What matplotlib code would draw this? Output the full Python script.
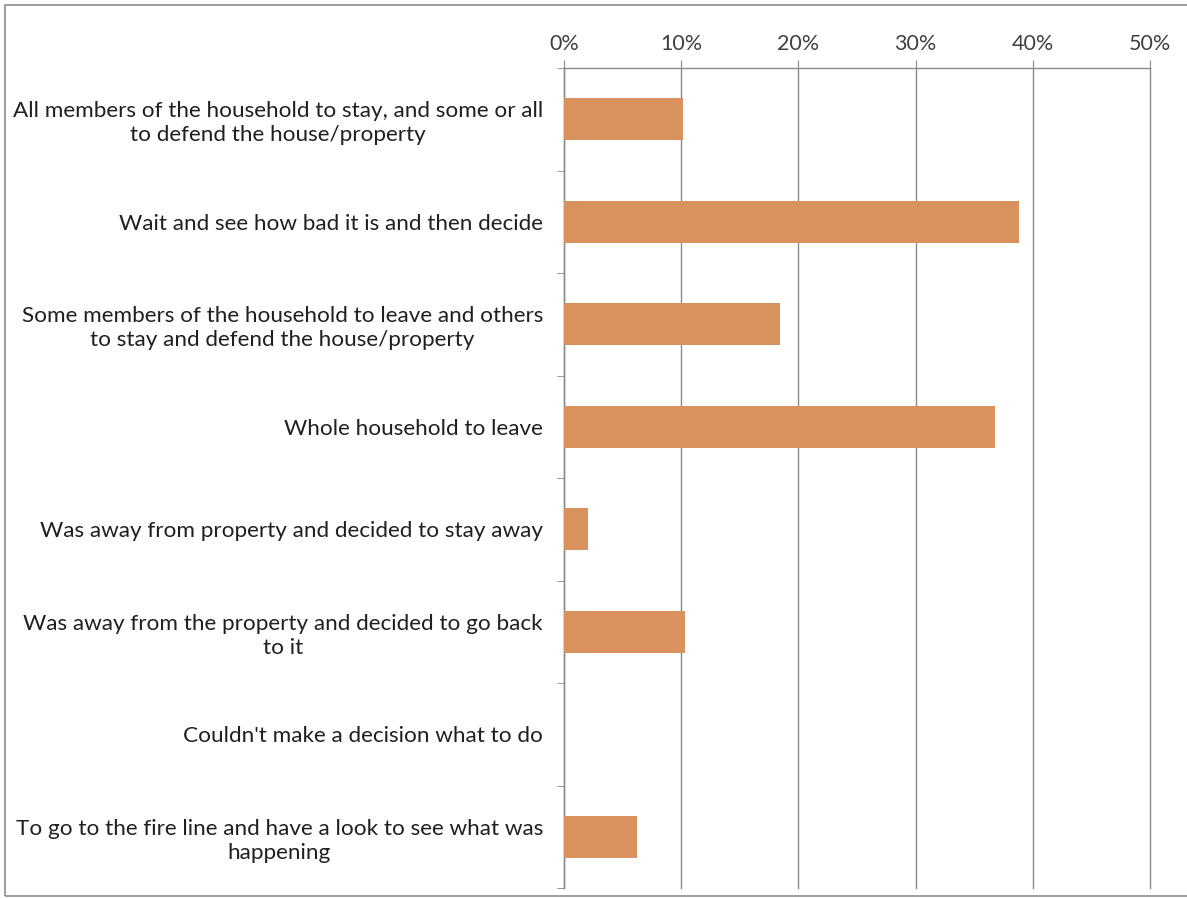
import matplotlib
matplotlib.use("Agg")
import matplotlib.pyplot as plt
from matplotlib.ticker import PercentFormatter, FixedLocator
from matplotlib.patches import Rectangle

categories = [
    "All members of the household to stay, and some or all\nto defend the house/property",
    "Wait and see how bad it is and then decide",
    "Some members of the household to leave and others\nto stay and defend the house/property",
    "Whole household to leave",
    "Was away from property and decided to stay away",
    "Was away from the property and decided to go back\nto it",
    "Couldn't make a decision what to do",
    "To go to the fire line and have a look to see what was\nhappening",
]
values = [0.102, 0.388, 0.184, 0.368, 0.021, 0.103, 0.0, 0.062]
xticks = [0, 0.1, 0.2, 0.3, 0.4, 0.5]

plt.rcParams['font.family'] = ['Lato', 'DejaVu Sans']

fig = plt.figure(figsize=(11.87, 8.98), dpi=100)
ax = fig.add_axes([0.475, 0.011, 0.494, 0.913])

pos = list(range(len(categories)))
ax.barh(pos, values, height=0.41, color='#D9925E', zorder=3)

ax.set_xlim(0, 0.5)
ax.set_ylim(len(categories) - 0.5, -0.5)
ax.set_xticks(xticks)
ax.xaxis.set_major_formatter(PercentFormatter(1.0, decimals=0))
ax.xaxis.tick_top()
ax.tick_params(axis='x', direction='out', length=6, color='#888888',
               labelsize=15.5, labelcolor='#404040', pad=4)
ax.grid(axis='x', color='#8a8a8a', linewidth=1.0, zorder=0)
for gl in ax.get_xgridlines():
    gl.set_clip_on(False)

ax.set_yticks(pos)
ax.set_yticklabels(categories, fontsize=16.2, color='#202020')
for lbl in ax.get_yticklabels():
    lbl.set_multialignment('center')
    lbl.set_linespacing(1.25)
ax.yaxis.set_minor_locator(FixedLocator([p - 0.5 for p in pos] + [len(pos) - 0.5]))
ax.tick_params(axis='y', which='major', length=0, pad=15)
ax.tick_params(axis='y', which='minor', length=5, color='#888888', direction='out')

for s in ['right', 'bottom']:
    ax.spines[s].set_visible(False)
for s in ['left', 'top']:
    ax.spines[s].set_color('#8a8a8a')
    ax.spines[s].set_linewidth(1.0)

# outer frame (right edge falls off the picture)
fig.patches.append(Rectangle((0.004, 0.0025), 1.1, 0.992, transform=fig.transFigure,
                             fill=False, edgecolor='#8c8c8c', linewidth=1.2))

fig.savefig("out.png", dpi=100)
